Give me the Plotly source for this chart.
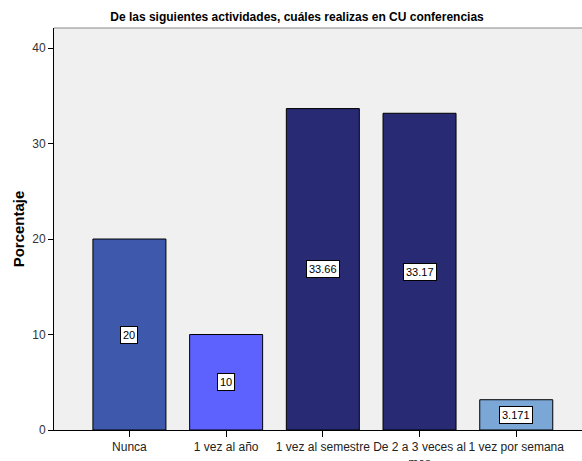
import plotly.graph_objects as go

categories = ["Nunca", "1 vez al año", "1 vez al semestre", "De 2 a 3 veces al<br>mes", "1 vez por semana"]
values = [20, 10, 33.66, 33.17, 3.171]
value_labels = ["20", "10", "33.66", "33.17", "3.171"]
colors = ["#3e58ac", "#5d62fe", "#282a73", "#282a73", "#7aa7d5"]
y_ticks = [0, 10, 20, 30, 40]

fig = go.Figure()
fig.add_trace(go.Bar(
    x=list(range(len(categories))), y=values,
    marker=dict(color=colors, line=dict(color="black", width=1)),
    width=0.755, hoverinfo="skip"
))

for i, (v, t) in enumerate(zip(values, value_labels)):
    fig.add_annotation(x=i, y=v / 2, text=t, showarrow=False,
                       font=dict(family="Liberation Sans, Arial", size=11, color="black"),
                       bgcolor="white", bordercolor="black", borderwidth=1, borderpad=2)

fig.add_shape(type="line", xref="paper", yref="paper", x0=0, x1=1, y0=1, y1=1,
              line=dict(color="#888888", width=1))

fig.update_layout(
    width=582, height=461,
    margin=dict(l=54, r=0, t=28, b=31),
    paper_bgcolor="white", plot_bgcolor="#f0f0f0",
    showlegend=False,
    title=dict(text="<b>De las siguientes actividades, cuáles realizas en CU conferencias</b>",
               x=297 / 582, xanchor="center", y=1 - 17 / 461, yanchor="middle",
               font=dict(family="Liberation Sans, Arial", size=12, color="black")),
    font=dict(family="Liberation Sans, Arial", size=12, color="#222222"),
    xaxis=dict(range=[-0.78, 4.68], tickmode="array", tickvals=list(range(len(categories))),
               ticktext=categories, ticks="outside", ticklen=6, tickcolor="black",
               showline=True, linecolor="black", linewidth=1, showgrid=False, zeroline=False,
               automargin=False,
               tickfont=dict(size=12, color="#222222")),
    yaxis=dict(range=[0, 42.1], tickvals=y_ticks, ticks="outside", ticklen=5, tickcolor="black",
               showline=True, linecolor="black", linewidth=1, showgrid=False, zeroline=False,
               tickfont=dict(size=12, color="#333333"),
               title=dict(text="<b>Porcentaje</b>", standoff=3,
                          font=dict(size=15, color="black"))),
)

fig.write_html("out.html")
